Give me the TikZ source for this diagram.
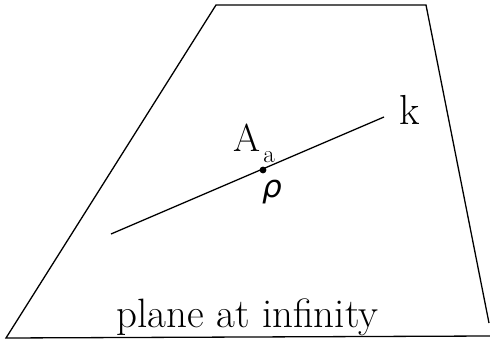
\documentclass[tikz,border=0pt]{standalone}
\usepackage{fontspec}
\newfontfamily\greekfont{DejaVu Sans}
\begin{document}
\begin{tikzpicture}[x=1pt,y=-1pt,line width=1.3pt]
  \useasboundingbox (0,0) rectangle (490,342);
  % Coordinates
  \coordinate (TL) at (216,5);
  \coordinate (TR) at (426,5);
  \coordinate (RB) at (489,323);
  \coordinate (BL) at (6,338);
  \coordinate (BR) at (490,336);
  \coordinate (K1) at (111,234);
  \coordinate (K2) at (384,117);
  \coordinate (P) at (263,170);

  % Drawing
  \draw (RB) -- (TR) -- (TL) -- (BL) -- (BR);
  \draw (K1) -- (K2);
  \fill[black] (P) circle (3.4pt);

  % Labels
  \node[anchor=base,font=\fontsize{39}{46}\selectfont] (Alab) at (247,152) {A};
  \node[anchor=base,font=\fontsize{25}{30}\selectfont] (alab) at (269,162) {a};
  \node[anchor=base,font=\fontsize{42}{48}\selectfont] (klab) at (410,125) {k};
  \node[font=\fontsize{31}{36}\selectfont\greekfont\itshape] (rholab) at (272,192) {ρ};
  \node[anchor=base,font=\fontsize{41}{48}\selectfont] (plane) at (247.5,327) {plane at infinity};
\end{tikzpicture}
\end{document}
